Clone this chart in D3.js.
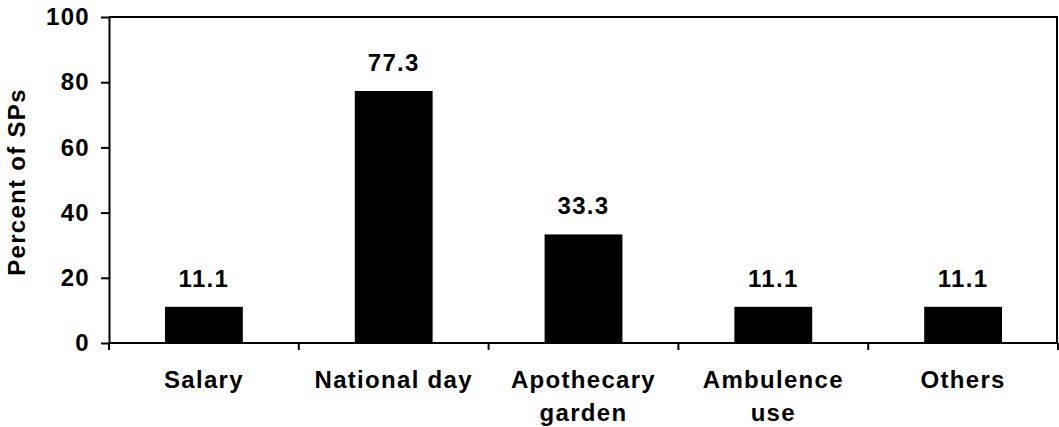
<!DOCTYPE html>
<html>
<head>
<meta charset="utf-8">
<script src="https://cdn.jsdelivr.net/npm/d3@7"></script>
<style>
  html, body { margin: 0; padding: 0; background: #fff; }
  svg text { font-family: "Liberation Sans", Arial, sans-serif; font-weight: bold; fill: #000; }
</style>
</head>
<body>
<svg id="chart" width="1059" height="427"></svg>
<script>
const categories = ["Salary", "National day", "Apothecary garden", "Ambulence use", "Others"];
const categoryLines = [["Salary"], ["National day"], ["Apothecary", "garden"], ["Ambulence", "use"], ["Others"]];
const values = [11.1, 77.3, 33.3, 11.1, 11.1];
const valueLabels = ["11.1", "77.3", "33.3", "11.1", "11.1"];
const yTicks = [0, 20, 40, 60, 80, 100];
const yTitle = "Percent of SPs";

const W = 1059, H = 427;
const margin = {left: 109, top: 17, right: 1, bottom: 84};
const svg = d3.select("#chart");

const x = d3.scaleBand().domain(categories)
  .range([margin.left, W - margin.right])
  .paddingInner(0.59).paddingOuter(0.295);
const y = d3.scaleLinear().domain([0, 100]).range([H - margin.bottom, margin.top]);

const fs = "24px", ls = "1.3px";

// top and right border
svg.append("line").attr("x1", margin.left).attr("x2", W - margin.right)
  .attr("y1", y(100)).attr("y2", y(100)).attr("stroke", "#000").attr("stroke-width", 2);
svg.append("line").attr("x1", W - margin.right - 1).attr("x2", W - margin.right - 1)
  .attr("y1", y(100)).attr("y2", y(0)).attr("stroke", "#000").attr("stroke-width", 2);

// bars
svg.selectAll("rect.bar").data(values).enter().append("rect")
  .attr("class", "bar")
  .attr("x", (d, i) => x(categories[i]))
  .attr("y", d => y(d))
  .attr("width", x.bandwidth())
  .attr("height", d => y(0) - y(d))
  .attr("fill", "#000");

// value labels
svg.selectAll("text.val").data(values).enter().append("text")
  .attr("class", "val")
  .attr("x", (d, i) => x(categories[i]) + x.bandwidth() / 2)
  .attr("y", d => y(d) - 20)
  .attr("text-anchor", "middle")
  .style("font-size", fs).style("letter-spacing", ls)
  .text((d, i) => valueLabels[i]);

// y axis
const yAxis = svg.append("g").attr("transform", `translate(${margin.left},0)`)
  .call(d3.axisLeft(y).tickValues(yTicks).tickSize(8).tickSizeOuter(0).tickPadding(11));
yAxis.select(".domain").attr("stroke", "#000").attr("stroke-width", 2);
yAxis.selectAll(".tick line").attr("stroke", "#000").attr("stroke-width", 2);
yAxis.selectAll(".tick text").style("font-size", fs).style("letter-spacing", ls)
  .attr("font-family", null).attr("fill", "#000");

// x axis
const step = x.step();
const boundaries = categories.map(c => x(c) - step * x.paddingInner() / 2);
boundaries.push(x(categories[categories.length - 1]) + x.bandwidth() + step * x.paddingInner() / 2);
svg.append("line").attr("x1", margin.left).attr("x2", W - margin.right)
  .attr("y1", y(0)).attr("y2", y(0)).attr("stroke", "#000").attr("stroke-width", 2);
svg.selectAll("line.xtick").data(boundaries).enter().append("line")
  .attr("class", "xtick")
  .attr("x1", d => d).attr("x2", d => d)
  .attr("y1", y(0)).attr("y2", y(0) + 7)
  .attr("stroke", "#000").attr("stroke-width", 2);

const xl = svg.selectAll("text.xl").data(categories).enter().append("text")
  .attr("class", "xl")
  .attr("x", d => x(d) + x.bandwidth() / 2)
  .attr("y", y(0) + 45)
  .attr("text-anchor", "middle")
  .style("font-size", fs).style("letter-spacing", ls);
xl.each(function(d, i) {
  const t = d3.select(this);
  categoryLines[i].forEach((line, j) => {
    t.append("tspan").attr("x", x(d) + x.bandwidth() / 2)
      .attr("dy", j === 0 ? 0 : 33).text(line);
  });
});

// y title
svg.append("text")
  .attr("transform", `translate(25,${(y(0) + y(100)) / 2 + 2}) rotate(-90)`)
  .attr("text-anchor", "middle")
  .style("font-size", fs).style("letter-spacing", ls)
  .text(yTitle);
</script>
</body>
</html>
